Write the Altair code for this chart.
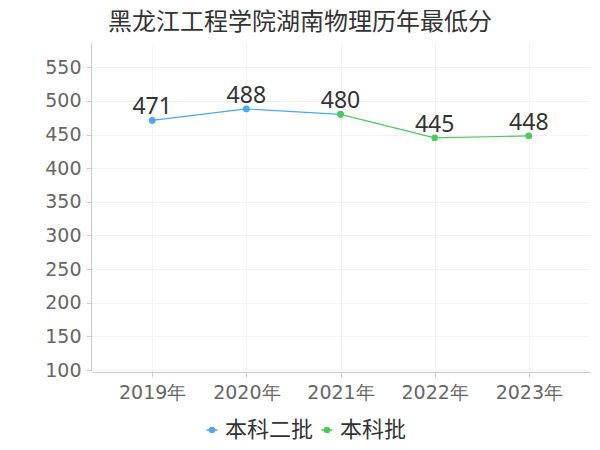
import altair as alt
import pandas as pd

years = ["2019年", "2020年", "2021年", "2022年", "2023年"]
series_names = ["本科二批", "本科批"]
erpi = [471, 488, 480, None, None]
benke = [None, None, 480, 445, 448]
colors = ["#4aa8f8", "#4cc95c"]
title = "黑龙江工程学院湖南物理历年最低分"
y_ticks = [100, 150, 200, 250, 300, 350, 400, 450, 500, 550]

rows = []
for y, v in zip(years, erpi):
    if v is not None:
        rows.append({"year": y, "score": v, "batch": series_names[0]})
for y, v in zip(years, benke):
    if v is not None:
        rows.append({"year": y, "score": v, "batch": series_names[1]})
df = pd.DataFrame(rows)
label_df = df.drop_duplicates(subset=["year"], keep="last")

FONT = "Noto Sans CJK SC"
NUMFONT = "DejaVu Sans"

x = alt.X("year:N", sort=years, title=None,
          scale=alt.Scale(type="point", padding=0.65),
          axis=alt.Axis(labelAngle=0, labelFontSize=19, labelColor="#666666",
                        labelFont=NUMFONT, domainColor="#cccccc", tickColor="#cccccc",
                        gridColor="#f3f3f3", grid=True, labelPadding=6, offset=2,
                        tickSize=5))
y = alt.Y("score:Q", title=None,
          scale=alt.Scale(domain=[100, 586], nice=False, zero=False),
          axis=alt.Axis(values=y_ticks, labelFontSize=19,
                        labelColor="#666666", labelFont=NUMFONT, domainColor="#cccccc",
                        tickColor="#cccccc", gridColor="#f3f3f3", tickSize=5,
                        labelPadding=5, labelOverlap=False, labelFlush=False))
color = alt.Color("batch:N", sort=series_names,
                  scale=alt.Scale(domain=series_names, range=colors),
                  legend=alt.Legend(title=None, orient="none", direction="horizontal",
                                    legendX=110, legendY=376, labelFontSize=22,
                                    labelFont=FONT, labelColor="#333333",
                                    symbolType="M-1,0L1,0M-0.45,0a0.45,0.45 0 1,0 0.9,0a0.45,0.45 0 1,0 -0.9,0",
                                    symbolSize=120, symbolStrokeWidth=1.5,
                                    columnPadding=2, labelOffset=2))

base = alt.Chart(df).encode(x=x, y=y, color=color, order=alt.Order("year:N"))

layers = []
for name in series_names:
    sub = base.transform_filter(alt.datum.batch == name)
    layers.append(sub.mark_line(strokeWidth=1.2))
    layers.append(sub.mark_point(filled=True, size=45, opacity=1))

labels = alt.Chart(label_df).mark_text(baseline="bottom", dy=-1, fontSize=23,
                                       font="Noto Sans", color="#333333").encode(
    x=x, y=y, text="score:Q")

chart = alt.layer(*layers, labels).properties(
    width=499, height=327,
    title=alt.TitleParams(title, fontSize=24, font=FONT, color="#333333",
                          fontWeight="normal", anchor="start", frame="group",
                          dx=17, offset=8),
    autosize=alt.AutoSizeParams(type="none"),
    padding={"left": 83, "top": 35, "right": 2, "bottom": 72},
).configure_view(stroke=None)

chart.save("out.html", embed_options={"renderer": "svg", "actions": False})
